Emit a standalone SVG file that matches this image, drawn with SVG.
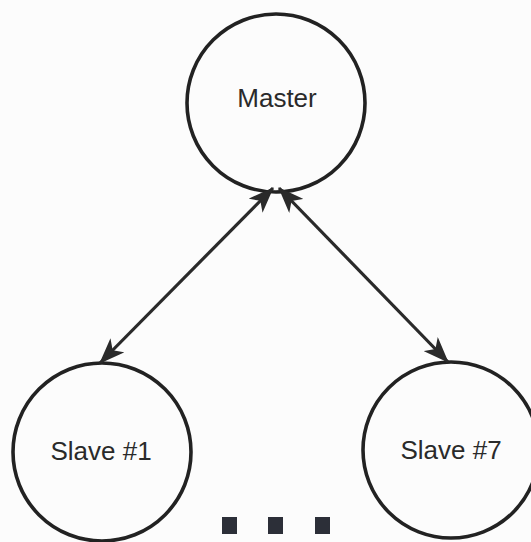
<svg xmlns="http://www.w3.org/2000/svg" width="531" height="542" viewBox="0 0 531 542">
<style>
.node circle{fill:none;stroke:#222;stroke-width:3.6}
.node text{font-family:"Liberation Sans",Arial,sans-serif;font-size:26px;fill:#2a2a2a;text-anchor:middle}
.conn line{stroke:#2a2a2a;stroke-width:3.2}
.dot{fill:#2c2f38}
</style>
<defs>
<marker id="ah" markerUnits="userSpaceOnUse" markerWidth="26" markerHeight="20" refX="25" refY="10" orient="auto-start-reverse" viewBox="0 0 26 20">
<path d="M0,0 L26,10 L0,20 L7,10 z" fill="#2a2a2a"/>
</marker>
</defs>
<rect width="531" height="542" fill="#fcfcfc"/>
<g id="master" class="node">
<circle cx="276" cy="103" r="89"/>
<text x="277" y="107">Master</text>
</g>
<g id="slave1" class="node">
<circle cx="102" cy="452" r="89"/>
<text x="101" y="460">Slave #1</text>
</g>
<g id="slave7" class="node">
<circle cx="451" cy="450" r="88"/>
<text x="451" y="459">Slave #7</text>
</g>
<g id="connectors" class="conn">
<line x1="100" y1="363" x2="273" y2="188" marker-start="url(#ah)" marker-end="url(#ah)"/>
<line x1="448" y1="362" x2="279" y2="188" marker-start="url(#ah)" marker-end="url(#ah)"/>
</g>
<g id="ellipsis">
<rect class="dot" x="222" y="517" width="15" height="17"/>
<rect class="dot" x="268" y="517" width="15" height="17"/>
<rect class="dot" x="315" y="517" width="15" height="17"/>
</g>
</svg>
